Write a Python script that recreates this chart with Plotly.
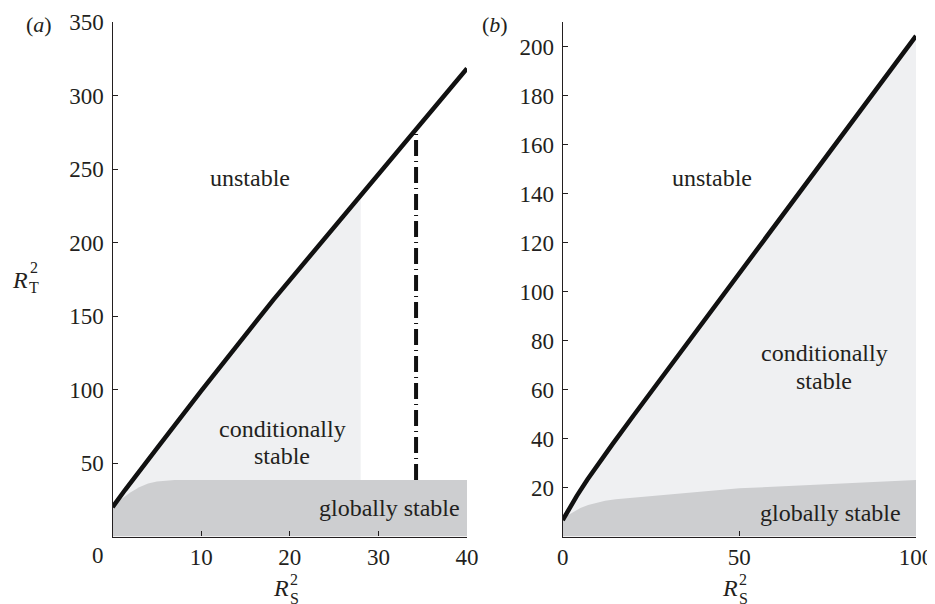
import plotly.graph_objects as go

# The page body has an 8px margin, so all pixel positions below (measured on
# the 935x604 picture) are shifted by 8px when converted to paper coordinates.
OFF = 8
W, H = 935, 604

# ---------------- data: panel (a) ----------------
a_line_x = [0, 1.4, 5, 10, 18.14, 28, 34.25, 40]
a_line_y = [20, 31.6, 60, 99, 161, 232.5, 277, 318.4]
a_glob_x = [0, 1, 2, 3, 4, 5, 6, 7, 10, 20, 30, 40]
a_glob_y = [20, 25.5, 30, 33.5, 36, 37.5, 38.2, 38.5, 38.5, 38.5, 38.5, 38.5]
a_cond_right = 28          # right edge of the light region
a_dash_x = 34.25           # dash-dot vertical line
a_dash_y = [38.5, 277]
a_xticks = [0, 10, 20, 30, 40]
a_xticklabels = ["", "10", "20", "30", "40"]
a_yticks = [50, 100, 150, 200, 250, 300, 350]

# ---------------- data: panel (b) ----------------
b_line_x = [0, 2, 4, 7, 10, 14, 20, 28, 44.5, 60, 80, 100]
b_line_y = [6.7, 11.8, 16.6, 23.3, 29.6, 37.5, 49.3, 64.8, 97, 127.3, 166.3, 204.3]
b_glob_x = [0, 1, 2, 3.5, 5, 7.2, 10, 12, 15, 21.4, 34.6, 50, 70, 85, 100]
b_glob_y = [6.7, 8.3, 9.2, 10.3, 11.6, 12.9, 14, 14.6, 15.2, 16, 17.6, 19.7, 21, 22.2, 23.1]
b_xticks = [0, 50, 100]
b_yticks = [20, 40, 60, 80, 100, 120, 140, 160, 180, 200]

LIGHT = "#eff0f2"
DARK = "#cdced0"
INK = "#231f20"
FONT = "Times New Roman, Liberation Serif, DejaVu Serif, serif"


def PX(px):
    return (px - OFF) / W


def PY(py):
    return 1 - (py - OFF) / H


fig = go.Figure()

# ---- panel (a) fills ----
ax_l = [x for x in a_line_x if x <= a_cond_right]
ay_l = [y for x, y in zip(a_line_x, a_line_y) if x <= a_cond_right]
fig.add_trace(go.Scatter(x=[0] + ax_l + [a_cond_right, 0], y=[0] + ay_l + [0, 0],
                         fill="toself", fillcolor=LIGHT, line=dict(width=0),
                         mode="lines", xaxis="x", yaxis="y", hoverinfo="skip"))
fig.add_trace(go.Scatter(x=[0] + a_glob_x + [a_glob_x[-1], 0], y=[0] + a_glob_y + [0, 0],
                         fill="toself", fillcolor=DARK, line=dict(width=0),
                         mode="lines", xaxis="x", yaxis="y", hoverinfo="skip"))
fig.add_trace(go.Scatter(x=[a_dash_x, a_dash_x], y=a_dash_y, mode="lines",
                         line=dict(color="#111", width=4, dash="16px,5px,1px,5px"),
                         xaxis="x", yaxis="y", hoverinfo="skip"))
fig.add_trace(go.Scatter(x=a_line_x, y=a_line_y, mode="lines",
                         line=dict(color="#111", width=4.5),
                         xaxis="x", yaxis="y", hoverinfo="skip"))

# ---- panel (b) fills ----
fig.add_trace(go.Scatter(x=[0] + b_line_x + [b_line_x[-1], 0], y=[0] + b_line_y + [0, 0],
                         fill="toself", fillcolor=LIGHT, line=dict(width=0),
                         mode="lines", xaxis="x2", yaxis="y2", hoverinfo="skip"))
fig.add_trace(go.Scatter(x=[0] + b_glob_x + [b_glob_x[-1], 0], y=[0] + b_glob_y + [0, 0],
                         fill="toself", fillcolor=DARK, line=dict(width=0),
                         mode="lines", xaxis="x2", yaxis="y2", hoverinfo="skip"))
fig.add_trace(go.Scatter(x=b_line_x, y=b_line_y, mode="lines",
                         line=dict(color="#111", width=4.5),
                         xaxis="x2", yaxis="y2", hoverinfo="skip"))

axis_common = dict(showline=True, linecolor=INK, linewidth=1.3, ticks="inside",
                   ticklen=5, tickwidth=1.3, tickcolor=INK, showgrid=False,
                   zeroline=False, tickfont=dict(family=FONT, size=23, color=INK),
                   fixedrange=True, automargin=False)

ydom = [PY(536.5), PY(22)]
fig.update_layout(
    template="none",
    width=W, height=H, autosize=False, showlegend=False,
    margin=dict(l=0, r=0, t=0, b=0, pad=0),
    paper_bgcolor="white", plot_bgcolor="white",
    xaxis=dict(domain=[PX(112.6), PX(467)], range=[0, 40], tickvals=a_xticks,
               ticktext=a_xticklabels, anchor="y", **axis_common),
    yaxis=dict(domain=ydom, range=[0, 350], tickvals=a_yticks, anchor="x",
               ticklabelstandoff=3, **axis_common),
    xaxis2=dict(domain=[PX(562.7), PX(916)], range=[0, 100], tickvals=b_xticks,
                anchor="y2", **axis_common),
    yaxis2=dict(domain=ydom, range=[0, 210], tickvals=b_yticks, anchor="x2",
                ticklabelstandoff=3, **axis_common),
)


def ann(text, px, py, size=24, italic=False, xanchor="center"):
    if italic:
        text = "<i>" + text + "</i>"
    fig.add_annotation(text=text, x=PX(px), y=PY(py), xref="paper", yref="paper",
                       showarrow=False, xanchor=xanchor, yanchor="middle",
                       font=dict(family=FONT, size=size, color=INK))


# region labels
ann("unstable", 250, 178)
ann("unstable", 712, 178)
ann("conditionally", 282, 429)
ann("stable", 282, 456)
ann("conditionally", 824, 353)
ann("stable", 824, 381)
ann("globally stable", 389, 508)
ann("globally stable", 830, 513)

# panel letters
ann("(<i>a</i>)", 39, 24, size=22)
ann("(<i>b</i>)", 495, 24, size=22)

# corner zero of panel (a)
ann("0", 97.5, 555, size=23)

# axis labels
ann("R", 20, 280, size=24, italic=True)
ann("2", 34, 267, size=16)
ann("T", 34, 288, size=16)
ann("R", 281, 588, size=24, italic=True)
ann("2", 294, 579, size=16)
ann("S", 294, 598, size=16)
ann("R", 730, 588, size=24, italic=True)
ann("2", 743, 579, size=16)
ann("S", 743, 598, size=16)

fig.write_html("out.html")
